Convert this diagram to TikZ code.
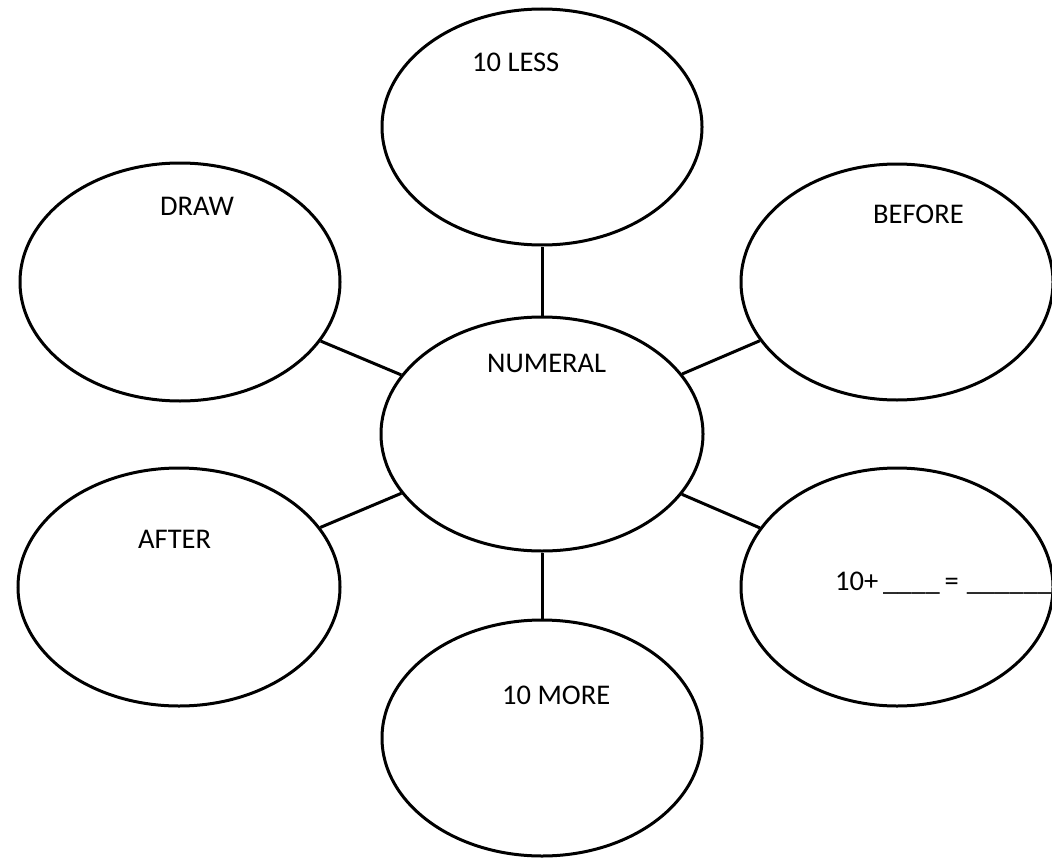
\documentclass[tikz,border=0pt]{standalone}
\usepackage{fontspec}
\setmainfont{Carlito}
\usetikzlibrary{shapes.geometric}
\tikzset{
  bubble/.style={draw,ellipse,line width=3pt,inner sep=0pt,minimum width=320pt,minimum height=236pt},
  lbl/.style={anchor=base west,inner sep=0pt,font=\fontsize{28.5}{34}\selectfont},
  spoke/.style={line width=3pt}
}
\begin{document}
\begin{tikzpicture}[x=1pt,y=-1pt]
\useasboundingbox (0,0) rectangle (1052,859);
\node[bubble,minimum width=322pt,minimum height=234pt] (numeral) at (542,434) {};
\node[bubble] (less) at (542,127) {};
\node[bubble,minimum height=238pt] (draw) at (180,282) {};
\node[bubble,minimum width=312pt] (before) at (897,282) {};
\node[bubble,minimum width=322pt,minimum height=238pt] (after) at (179,587) {};
\node[bubble,minimum width=312pt,minimum height=238pt] (sum) at (897,587) {};
\node[bubble] (more) at (542,738) {};
% spokes
\draw[spoke] (numeral) -- (less);
\draw[spoke] (numeral) -- (draw);
\draw[spoke] (numeral) -- (before);
\draw[spoke] (numeral) -- (after);
\draw[spoke] (numeral) -- (sum);
\draw[spoke] (numeral) -- (more);
% labels
\node[lbl] (numeralTxt) at (487,372) {NUMERAL};
\node[lbl] (lessTxt) at (472,72) {10 LESS};
\node[lbl] (drawTxt) at (160,215) {DRAW};
\node[lbl] (beforeTxt) at (873,223) {BEFORE};
\node[lbl] (afterTxt) at (138,548) {AFTER};
\node[lbl] (sumTxt) at (835,590) {10+\,\_\_\_\_\,=\hspace{8pt}\_\_\_\_\_\_};
\node[lbl] (moreTxt) at (502,704) {10 MORE};
\end{tikzpicture}
\end{document}
